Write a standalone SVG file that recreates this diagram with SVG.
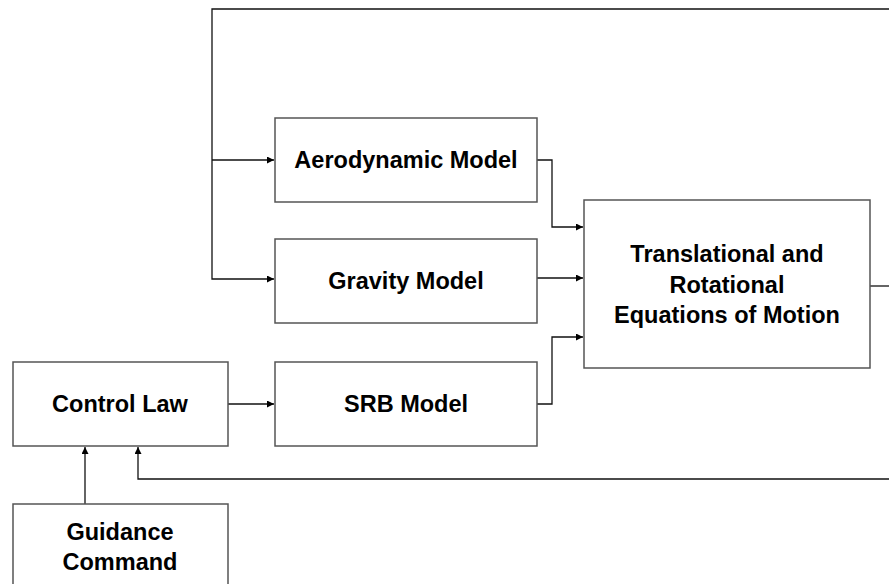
<svg xmlns="http://www.w3.org/2000/svg" width="889" height="584" viewBox="0 0 889 584">
<style>
.box{fill:#fff;stroke:#555;stroke-width:1.5}
.ln{fill:none;stroke:#111;stroke-width:1.3}
text{font-family:"Liberation Sans",Arial,sans-serif;font-weight:bold;font-size:23.5px;fill:#000;text-anchor:middle}
</style>
<defs>
<marker id="ah" viewBox="0 0 10 10" refX="10" refY="5" markerWidth="8" markerHeight="7" markerUnits="userSpaceOnUse" orient="auto">
<path d="M0,0 L10,5 L0,10 z" fill="#000"/>
</marker>
</defs>
<rect width="889" height="584" fill="#fff"/>
<g id="connectors">
<path class="ln" d="M889,9 H212 V279 H274" marker-end="url(#ah)"/>
<path class="ln" d="M212,160 H274" marker-end="url(#ah)"/>
<path class="ln" d="M537,160 H552 V227 H583" marker-end="url(#ah)"/>
<path class="ln" d="M537,278 H583" marker-end="url(#ah)"/>
<path class="ln" d="M537,404 H552 V337 H583" marker-end="url(#ah)"/>
<path class="ln" d="M228,404 H274" marker-end="url(#ah)"/>
<path class="ln" d="M870,286 H889"/>
<path class="ln" d="M889,479 H138 V447" marker-end="url(#ah)"/>
<path class="ln" d="M85,504 V447" marker-end="url(#ah)"/>
</g>
<g id="aero">
<rect class="box" x="275" y="118" width="262" height="84"/>
<text x="406" y="168">Aerodynamic Model</text>
</g>
<g id="gravity">
<rect class="box" x="275" y="239" width="262" height="84"/>
<text x="406" y="289">Gravity Model</text>
</g>
<g id="srb">
<rect class="box" x="275" y="362" width="262" height="84"/>
<text x="406" y="412">SRB Model</text>
</g>
<g id="eom">
<rect class="box" x="584" y="200" width="286" height="168"/>
<text x="727" y="262">Translational and</text>
<text x="727" y="293">Rotational</text>
<text x="727" y="323">Equations of Motion</text>
</g>
<g id="control">
<rect class="box" x="13" y="362" width="215" height="84"/>
<text x="120" y="412">Control Law</text>
</g>
<g id="guidance">
<rect class="box" x="13" y="504" width="215" height="100"/>
<text x="120" y="540">Guidance</text>
<text x="120" y="570">Command</text>
</g>
</svg>
